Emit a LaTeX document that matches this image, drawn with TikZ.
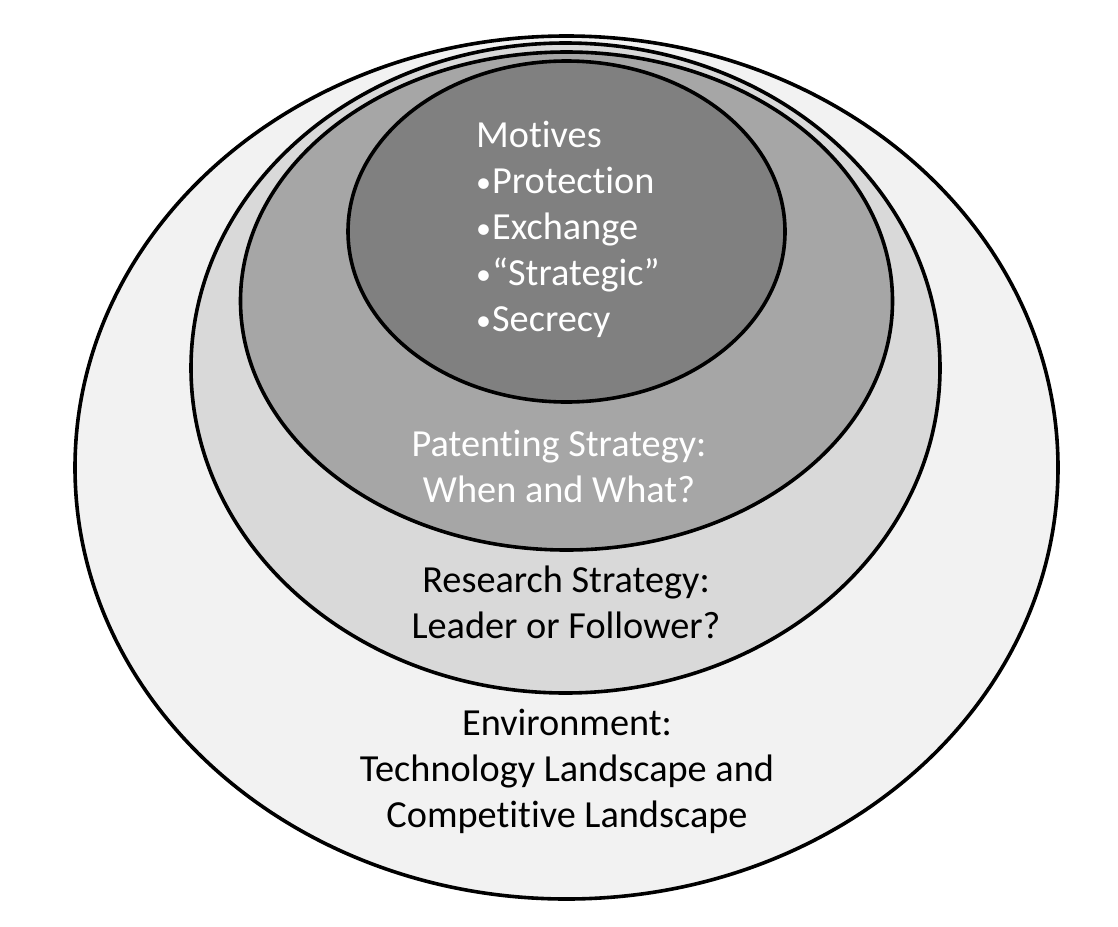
\documentclass[tikz,border=0pt]{standalone}
\usepackage{fontspec}
\setmainfont{Carlito}[Ligatures={NoCommon}]
\usetikzlibrary{shapes.geometric}
\definecolor{c1}{HTML}{F2F2F2}
\definecolor{c2}{HTML}{D9D9D9}
\definecolor{c3}{HTML}{A6A6A6}
\definecolor{c4}{HTML}{808080}
\newcommand{\bul}{{\fontsize{30}{30}\selectfont\raisebox{1pt}{•}}\kern1pt}
\tikzset{
  ring/.style={ellipse, draw=black, line width=3.6pt, inner sep=0pt, outer sep=0pt},
  lbl/.style={font=\fontsize{38.3}{46}\selectfont, align=center, inner sep=0pt},
}
\begin{document}
\begin{tikzpicture}[x=1pt,y=-1pt]
\useasboundingbox (0,0) rectangle (1118,926);
\node[ring, fill=c1, minimum width=983pt, minimum height=863pt] (env) at (566.5,467.5) {};
\node[ring, fill=c2, minimum width=749pt, minimum height=650pt] (res) at (565.5,368) {};
\node[ring, fill=c3, minimum width=652pt, minimum height=498pt] (pat) at (566.5,301) {};
\node[ring, fill=c4, minimum width=437pt, minimum height=341pt] (mot) at (566.5,231.5) {};
\node[lbl, align=left, text=white, anchor=north west] (mottxt) at (476,121) {Motives\\\bul Protection\\\bul Exchange\\\bul “Strategic”\\\bul Secrecy};
\node[lbl, text=white] (pattxt) at (559,466) {Patenting Strategy:\\When and What?};
\node[lbl] (restxt) at (566,602) {Research Strategy:\\Leader or Follower?};
\node[lbl] (envtxt) at (567,771) {Environment:\\Technology Landscape and\\Competitive Landscape};
\end{tikzpicture}
\end{document}
